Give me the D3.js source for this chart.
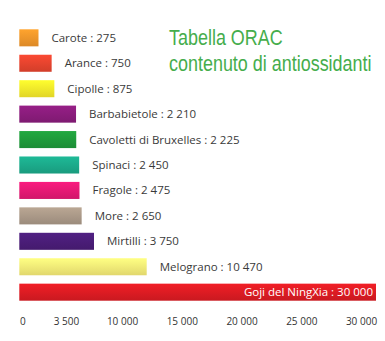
<!DOCTYPE html>
<html><head><meta charset="utf-8">
<script src="https://cdn.jsdelivr.net/npm/d3@7"></script>
<style>html,body{margin:0;padding:0;background:#fff;}svg{display:block;}</style>
</head><body><svg id="chart" width="385" height="341"></svg>
<script>
const categories = ["Carote","Arance","Cipolle","Barbabietole","Cavoletti di Bruxelles","Spinaci","Fragole","More","Mirtilli","Melograno","Goji del NingXia"];
const values = [275,750,875,2210,2225,2450,2475,2650,3750,10470,30000];
const barColors = ["#f99b2c","#ee4630","#fff12c","#8f1d80","#20a03d","#1cb08f","#ed1a78","#b09e8c","#4d1e7c","#fff47c","#e41c24"];
const tickValues = [0,3500,10000,15000,20000,25000,30000];
const titleLines = ["Tabella ORAC","contenuto di antiossidanti"];

const fmt = v => d3.format(",")(v).replace(/,/g, " ");
const svg = d3.select("#chart");
const left = 19.3;

const y = d3.scaleBand().domain(categories).range([29.3, 300.7]).paddingInner(0.33).paddingOuter(0);
const x = d3.scalePow().exponent(0.52).domain([0, 10470, 30000]).range([left, left + 127.4, left + 356.7]);
const xAxisScale = d3.scaleLinear().domain([0, 3500, 10000, 30000]).range([22.3, 66, 122, 361]);

const defs = svg.append("defs");
barColors.forEach((c, i) => {
  const g = defs.append("linearGradient").attr("id", "g" + i).attr("x1", 0).attr("y1", 0).attr("x2", 0).attr("y2", 1);
  g.append("stop").attr("offset", "0%").attr("stop-color", d3.color(c).brighter(0.15));
  g.append("stop").attr("offset", "100%").attr("stop-color", d3.color(c).darker(0.35));
});

const data = categories.map((c, i) => ({c, v: values[i], i}));
const last = data.length - 1;

svg.selectAll("rect.bar").data(data).join("rect").attr("class", "bar")
  .attr("x", left).attr("y", d => y(d.c))
  .attr("width", d => x(d.v) - left).attr("height", y.bandwidth())
  .attr("fill", d => `url(#g${d.i})`);

svg.selectAll("text.lbl").data(data).join("text").attr("class", "lbl")
  .attr("x", d => d.i === last ? x(d.v) - 3 : x(d.v) + 13)
  .attr("y", d => y(d.c) + y.bandwidth() / 2)
  .attr("dy", "0.35em")
  .attr("text-anchor", d => d.i === last ? "end" : "start")
  .attr("font-family", "'Open Sans', sans-serif").attr("font-size", 11.5)
  .attr("fill", d => d.i === last ? "#ffffff" : "#3a3a3a")
  .text(d => `${d.c} : ${fmt(d.v)}`);

const axis = d3.axisBottom(xAxisScale).tickValues(tickValues).tickSize(0).tickPadding(0).tickFormat(fmt);
const ag = svg.append("g").attr("transform", "translate(0,318)").call(axis);
ag.select(".domain").remove();
ag.selectAll("text").attr("font-family", "'Open Sans', sans-serif").attr("font-size", 10).attr("fill", "#333");

svg.append("g").selectAll("text").data(titleLines).join("text")
  .attr("transform", (d, i) => `translate(169,${44.5 + i * 26}) scale(0.835,1)`)
  .attr("font-family", "'Liberation Sans', Arial, sans-serif")
  .attr("font-size", 21.5).attr("fill", "#45ad4c")
  .text(d => d);
</script></body></html>
